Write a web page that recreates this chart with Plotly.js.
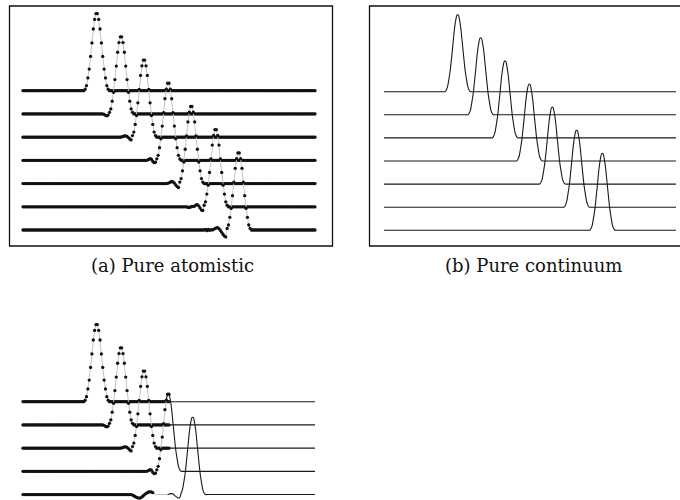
<!DOCTYPE html>
<html><head><meta charset="utf-8">
<script src="https://cdn.plot.ly/plotly-3.0.1.min.js"></script>
<style>html,body{margin:0;padding:0;background:#fff}#chart{width:680px;height:500px}</style>
</head><body><div id="chart"></div>
<script>
// ---- data ----
const chainLength = 217;                      // atoms per chain (index 0..216)
const pulseShape = [0.02, 0.065, 0.165, 0.28, 0.445, 0.62, 0.80, 0.925, 1.0,
                    1.0, 0.925, 0.80, 0.62, 0.445, 0.28, 0.165, 0.065, 0.02];
const pulseHeight = 3.32;                     // in units of chain spacing
const chainOffsets = [0, -1, -2, -3, -4, -5, -6];
const atomisticStarts = [46, 64, 81, 99, 116, 134, 151];
const continuumStarts = [46, 63, 81, 99, 116, 134, 153];
// trailing dispersive wiggles, 16 values ending just before the pulse
const atomisticWiggles = [
  [0,0,0,0,0,0,0,0,0,0,0,0,0,0,0,0],
  [0,0,0,0,0,0,0,0,0,0,0,0,-0.02,-0.06,-0.08,-0.05],
  [0,0,0,0,0,0,0,0,0.01,0.03,0.05,0.055,0.03,-0.02,-0.08,-0.12],
  [0,0,0,0,0,0,0,0,0,0.01,0.04,0.07,0.05,-0.04,-0.10,-0.08],
  [0,0,0,0,0,0,0,0.01,0.03,0.06,0.09,0.07,0.02,-0.06,-0.13,-0.17],
  [0,0,0,0,-0.02,-0.03,-0.01,0.02,0.01,0.03,0.08,0.09,0.04,-0.05,-0.14,-0.16],
  [0.03,-0.03,0.03,-0.02,0.02,0,0.03,0.06,0.09,0.10,0.06,-0.02,-0.10,-0.19,-0.26,-0.30]
];
// coupled (atomistic | continuum) panel
const coupledChains = 5;
const coupledInterface = 107;
const coupledAtomEnd = 108;
const coupledContBegin = 106;
const coupledWiggle5Start = 80;
const coupledWiggle5 = [0,-0.02,-0.05,-0.09,-0.12,-0.14,-0.15,-0.14,-0.10,-0.05,0,0.05,0.08,0.11,0.12,0.12,0.08,0.03,0];
const coupledDotEnd5 = 96;
const coupledContStart5 = 117;
const coupledContWiggle5 = [0,0,0,0,0,0,0,0.02,0.04,0.04,0.02,-0.03,-0.08,-0.12,-0.15,-0.13];
const panelLabels = ['(a) Pure atomistic', '(b) Pure continuum'];

// ---- build traces ----
function chain(start, wiggle) {
  const y = new Array(chainLength).fill(0);
  pulseShape.forEach((v, j) => { if (start + j < chainLength) y[start + j] += pulseHeight * v; });
  if (wiggle) wiggle.forEach((v, j) => { y[start - wiggle.length + j] += v; });
  return y;
}
const idx = Array.from({length: chainLength}, (_, i) => i);
const DOT = 3.3;
function atomTrace(xs, ys, ax, withDots) {
  return {x: xs, y: ys, xaxis: ax[0], yaxis: ax[1], type: 'scatter',
    mode: withDots === false ? 'lines' : 'lines+markers',
    line: {color: '#c4c4c4', width: 1}, marker: {color: '#111', size: DOT},
    hoverinfo: 'skip', cliponaxis: false};
}
function contTrace(xs, ys, ax) {
  return {x: xs, y: ys, xaxis: ax[0], yaxis: ax[1], type: 'scatter', mode: 'lines',
    line: {color: '#1a1a1a', width: 1.1, shape: 'spline', smoothing: 0.6}, hoverinfo: 'skip'};
}
const traces = [];
chainOffsets.forEach((b, k) => {
  const ya = chain(atomisticStarts[k], atomisticWiggles[k]).map(v => v + b);
  traces.push(atomTrace(idx, ya, ['x', 'y']));
  const yc = chain(continuumStarts[k], null).map(v => v + b);
  traces.push(contTrace(idx, yc, ['x2', 'y2']));
});
for (let k = 0; k < coupledChains; k++) {
  const b = chainOffsets[k];
  if (k === 4) {
    const ya = new Array(chainLength).fill(0);
    coupledWiggle5.forEach((v, j) => { ya[coupledWiggle5Start + j] += v; });
    const xd = idx.filter(i => i <= coupledDotEnd5);
    const xg = idx.filter(i => i >= coupledDotEnd5 && i <= coupledInterface + 2);
    traces.push(atomTrace(xg, xg.map(i => ya[i] + b), ['x3', 'y3'], false));
    traces.push(atomTrace(xd, xd.map(i => ya[i] + b), ['x3', 'y3']));
  } else {
    const ya = chain(atomisticStarts[k], atomisticWiggles[k]);
    const xs = idx.filter(i => i <= coupledAtomEnd);
    traces.push(atomTrace(xs, xs.map(i => ya[i] + b), ['x3', 'y3']));
  }
  let yc;
  if (k === 4) yc = chain(coupledContStart5, coupledContWiggle5);
  else if (k === 3) yc = chain(continuumStarts[k], null);
  else yc = new Array(chainLength).fill(0);
  const cBegin = k === 4 ? coupledInterface : coupledContBegin;
  const xc = idx.filter(i => i >= cBegin);
  traces.push(contTrace(xc, xc.map(i => yc[i] + b), ['x3', 'y3']));
}

const hidden = {visible: false, fixedrange: true};
const layout = {
  width: 680, height: 500, margin: {l: 0, r: 0, t: 0, b: 0},
  paper_bgcolor: '#fff', plot_bgcolor: 'rgba(0,0,0,0)', showlegend: false, hovermode: false,
  xaxis:  Object.assign({domain: [0, 0.5], range: [-17.0, 234.5], anchor: 'y'}, hidden),
  yaxis:  Object.assign({domain: [0.5, 1], range: [-6.861, 3.906], anchor: 'x'}, hidden),
  xaxis2: Object.assign({domain: [0.5, 1], range: [-32.54, 218.93], anchor: 'y2'}, hidden),
  yaxis2: Object.assign({domain: [0.5, 1], range: [-6.853, 3.97], anchor: 'x2'}, hidden),
  xaxis3: Object.assign({domain: [0, 0.5], range: [-17.0, 234.5], anchor: 'y3'}, hidden),
  yaxis3: Object.assign({domain: [0, 0.5], range: [-4.234, 6.533], anchor: 'x3'}, hidden),
  shapes: [
    {type: 'rect', xref: 'paper', yref: 'paper', x0: 9.5/680, x1: 332.5/680, y0: 1 - 246/500, y1: 1 - 6/500,
     line: {color: '#111', width: 1.3}},
    {type: 'rect', xref: 'paper', yref: 'paper', x0: 369.5/680, x1: 700/680, y0: 1 - 246/500, y1: 1 - 6/500,
     line: {color: '#111', width: 1.3}}
  ],
  annotations: [
    {text: panelLabels[0], xref: 'paper', yref: 'paper', x: 172/680, y: 1 - 265/500, showarrow: false,
     xanchor: 'center', yanchor: 'middle', font: {family: 'DejaVu Serif', size: 18, color: '#111'}},
    {text: panelLabels[1], xref: 'paper', yref: 'paper', x: 533/680, y: 1 - 265/500, showarrow: false,
     xanchor: 'center', yanchor: 'middle', font: {family: 'DejaVu Serif', size: 18, color: '#111'}}
  ]
};
Plotly.newPlot('chart', traces, layout, {staticPlot: true, displayModeBar: false});
</script></body></html>
